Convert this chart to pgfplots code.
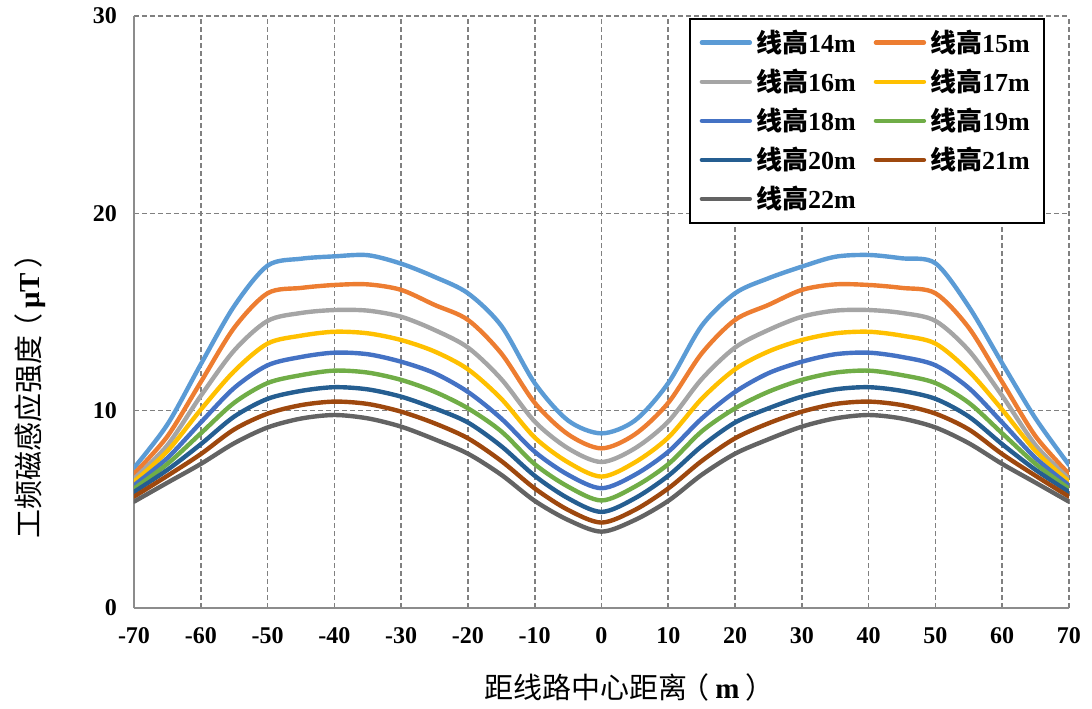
\documentclass[border=0pt]{standalone}
\usepackage{pgfplots}
\pgfplotsset{compat=1.18}
\usepackage{fontspec}
\setmainfont{Liberation Serif}
\newfontfamily\cjk{Noto Sans CJK SC}
\definecolor{c14}{HTML}{5B9BD5}
\definecolor{c15}{HTML}{ED7D31}
\definecolor{c16}{HTML}{A5A5A5}
\definecolor{c17}{HTML}{FFC000}
\definecolor{c18}{HTML}{4472C4}
\definecolor{c19}{HTML}{70AD47}
\definecolor{c20}{HTML}{255E91}
\definecolor{c21}{HTML}{9E480E}
\definecolor{c22}{HTML}{636363}
\definecolor{gridgray}{HTML}{808080}
\definecolor{axgray}{HTML}{8C8C8C}
\pgfplotstableread{
x    h14   h15   h16   h17   h18   h19   h20   h21   h22
-70  7.10  6.80  6.55  6.40  6.22  6.05  5.88  5.64  5.39
-65  9.30  8.70  8.25  7.95  7.60  7.30  7.00  6.70  6.35
-60  12.35 11.45 10.75 10.05 9.40  8.85  8.30  7.80  7.30
-55  15.30 14.20 13.05 12.00 11.15 10.40 9.70  9.05  8.35
-50  17.35 15.95 14.55 13.40 12.30 11.40 10.60 9.85  9.15
-45  17.70 16.22 14.95 13.80 12.72 11.80 11.00 10.28 9.60
-40  17.82 16.37 15.10 14.00 12.94 12.03 11.19 10.46 9.78
-35  17.88 16.40 15.07 13.92 12.86 11.93 11.08 10.34 9.61
-30  17.45 16.12 14.76 13.58 12.48 11.56 10.71 9.95  9.19
-25  16.78 15.36 14.09 13.00 11.90 10.96 10.12 9.36  8.55
-20  15.95 14.60 13.20 12.10 10.95 10.12 9.40  8.60  7.82
-15  14.30 12.90 11.60 10.60 9.60  8.95  8.20  7.45  6.75
-10  11.40 10.40 9.45  8.64  7.92  7.29  6.70  6.06  5.43
-5   9.50  8.80  8.09  7.38  6.75  6.15  5.56  4.97  4.46
0    8.85  8.09  7.40  6.66  6.07  5.45  4.87  4.33  3.87
5    9.50  8.80  8.09  7.38  6.75  6.15  5.56  4.97  4.46
10   11.40 10.40 9.45  8.64  7.92  7.29  6.70  6.06  5.43
15   14.30 12.90 11.60 10.60 9.60  8.95  8.20  7.45  6.75
20   15.95 14.60 13.20 12.10 10.95 10.12 9.40  8.60  7.82
25   16.71 15.36 14.09 13.00 11.90 10.96 10.12 9.36  8.55
30   17.30 16.12 14.76 13.58 12.48 11.56 10.71 9.95  9.19
35   17.80 16.40 15.07 13.92 12.86 11.93 11.08 10.34 9.61
40   17.89 16.37 15.10 14.00 12.94 12.03 11.19 10.46 9.78
45   17.72 16.22 14.95 13.80 12.72 11.80 11.00 10.28 9.60
50   17.47 15.95 14.55 13.40 12.30 11.40 10.60 9.85  9.15
55   15.27 14.20 13.05 12.00 11.15 10.40 9.70  9.05  8.35
60   12.40 11.45 10.75 10.05 9.40  8.85  8.30  7.80  7.30
65   9.60  8.70  8.25  7.95  7.60  7.30  7.00  6.70  6.35
70   7.25  6.80  6.55  6.40  6.22  6.05  5.88  5.64  5.39
}\datatable
\begin{document}
\begin{tikzpicture}
\useasboundingbox (-67pt,-50pt) rectangle (479pt,304pt);
\begin{axis}[
  scale only axis, width=467.5pt, height=296pt,
  xmin=-70, xmax=70, ymin=0, ymax=30,
  xtick={-70,-60,...,70}, ytick={0,10,20,30},
  xticklabels={-70,-60,-50,-40,-30,-20,-10,0,10,20,30,40,50,60,70},
  yticklabels={0,10,20,30},
  axis x line*=bottom, axis y line*=left,
  axis line style={axgray, line width=0.9pt},
  major tick length=0pt,
  grid=major,
  major grid style={gridgray, line width=0.8pt, dash pattern=on 2.5pt off 1.5pt},
  tick label style={font=\fontsize{12}{14}\selectfont\bfseries},
  xticklabel style={yshift=-6pt},
  yticklabel style={xshift=-5pt},
  xlabel={{\cjk 距线路中心距离}\hspace{-0.25em}{\cjk （}\hspace{0.2em}\textbf{m}\hspace{0.2em}{\cjk ）}},
  ylabel={{\cjk 工频磁感应强度}\hspace{-0.25em}{\cjk （}\hspace{0.15em}\textbf{μT}\hspace{0.15em}{\cjk ）}},
  label style={font=\fontsize{14.5}{16}\selectfont},
  xlabel style={at={(axis description cs:0.53,-0.135)}, anchor=center},
  ylabel style={at={(axis description cs:-0.111,0.37)}, anchor=center, rotate=0},
  legend columns=2,
  legend cell align=left,
  legend image code/.code={\draw[#1] (0pt,0pt) -- (24pt,0pt);},
  legend style={at={(rel axis cs:0.974,0.9966)}, anchor=north east,
    draw=black, line width=0.9pt, inner xsep=5pt, inner ysep=3.5pt,
    font=\fontsize{13}{15}\selectfont\bfseries,
    nodes={inner ysep=2pt},
    row sep=2.8pt,
    /tikz/every even column/.append style={column sep=7pt}},
  every axis plot/.append style={line width=2.2pt, smooth, line cap=round},
]
\addplot[c14] table[x=x,y=h14] {\datatable}; \addlegendentry{{\cjk 线高}14m}
\addplot[c15] table[x=x,y=h15] {\datatable}; \addlegendentry{{\cjk 线高}15m}
\addplot[c16] table[x=x,y=h16] {\datatable}; \addlegendentry{{\cjk 线高}16m}
\addplot[c17] table[x=x,y=h17] {\datatable}; \addlegendentry{{\cjk 线高}17m}
\addplot[c18] table[x=x,y=h18] {\datatable}; \addlegendentry{{\cjk 线高}18m}
\addplot[c19] table[x=x,y=h19] {\datatable}; \addlegendentry{{\cjk 线高}19m}
\addplot[c20] table[x=x,y=h20] {\datatable}; \addlegendentry{{\cjk 线高}20m}
\addplot[c21] table[x=x,y=h21] {\datatable}; \addlegendentry{{\cjk 线高}21m}
\addplot[c22] table[x=x,y=h22] {\datatable}; \addlegendentry{{\cjk 线高}22m}
\end{axis}
\end{tikzpicture}
\end{document}
